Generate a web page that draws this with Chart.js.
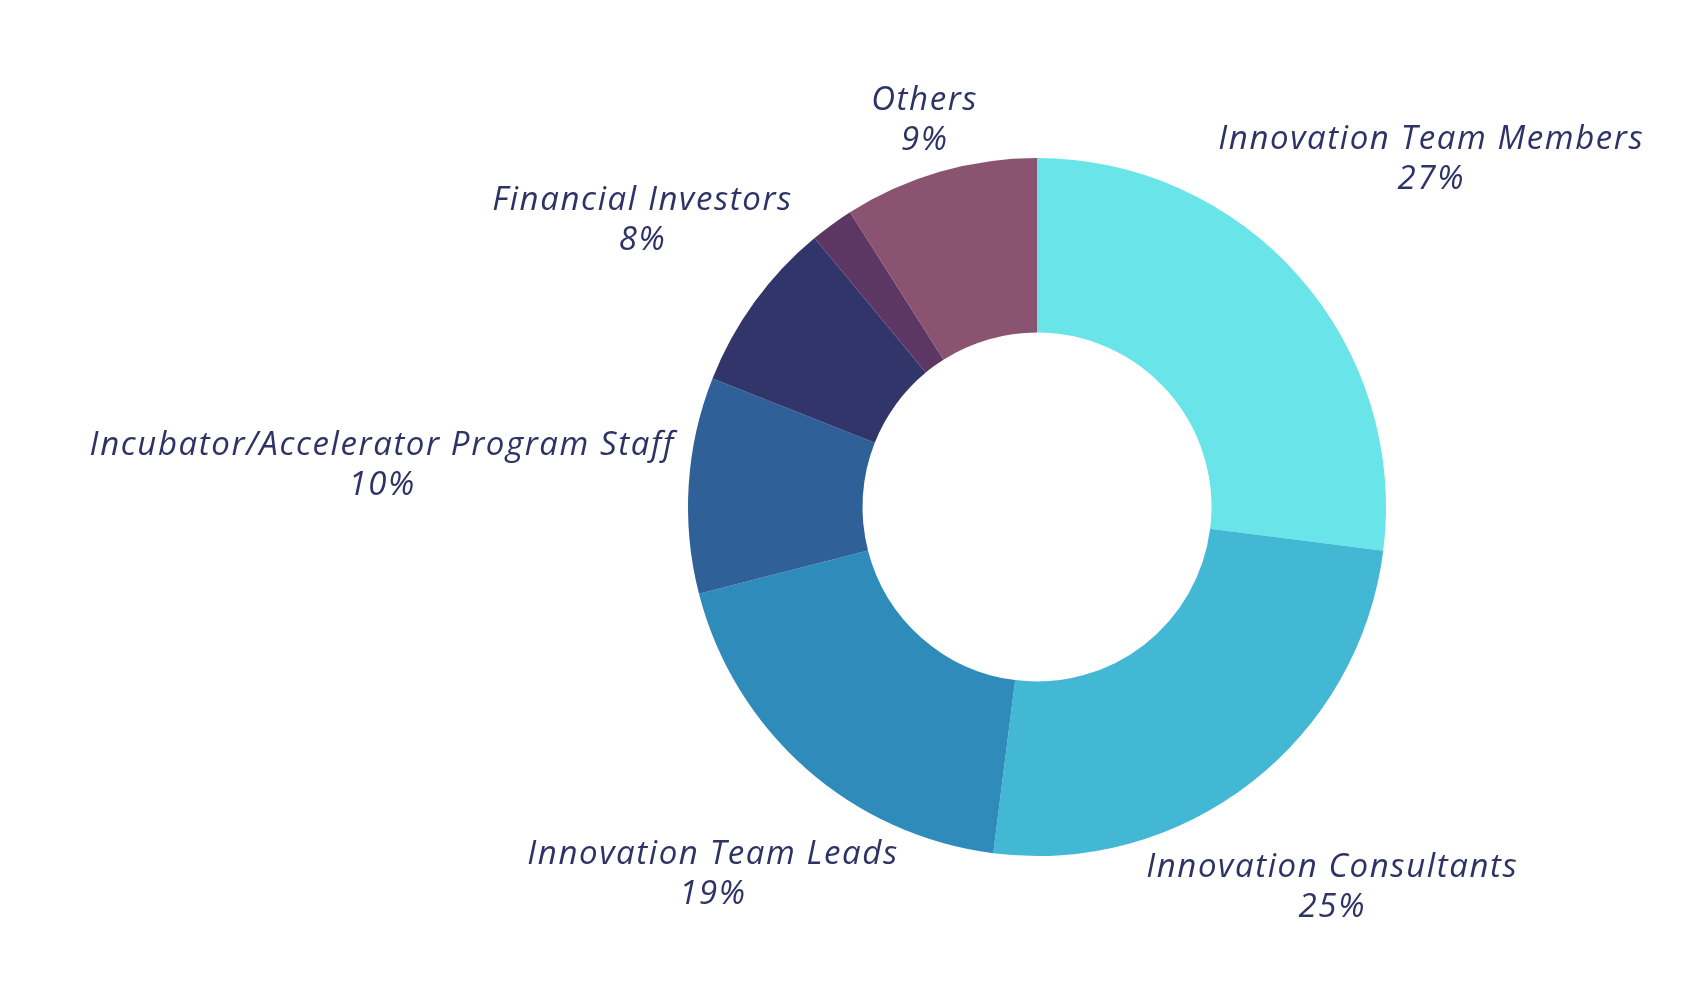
<!DOCTYPE html>
<html>
<head>
<meta charset="utf-8">
<script src="https://cdn.jsdelivr.net/npm/chart.js@4.4.1/dist/chart.umd.min.js"></script>
<style>
  html, body { margin: 0; padding: 0; background: #ffffff; }
  #wrap { width: 1698px; height: 992px; }
</style>
</head>
<body>
<div id="wrap"><canvas id="c" width="1698" height="992"></canvas></div>
<script>
const categories = [
  "Innovation Team Members",
  "Innovation Consultants",
  "Innovation Team Leads",
  "Incubator/Accelerator Program Staff",
  "Financial Investors",
  "",
  "Others"
];
const shares = [27, 25, 19, 10, 8, 2, 9];
const percentLabels = ["27%", "25%", "19%", "10%", "8%", "", "9%"];
const sliceColors = ["#69E4E8", "#43B8D5", "#2E8BBA", "#2F6098", "#31356A", "#5C3764", "#8A536F"];

const LABEL_FONT = 'italic 33px "Open Sans", "DejaVu Sans", sans-serif';
const LABEL_COLOR = "#2E3366";
const LINE_GAP = 40;
const LABEL_PAD = 15;

const outsideLabels = {
  id: "outsideLabels",
  afterDatasetsDraw(chart) {
    const ctx = chart.ctx;
    const meta = chart.getDatasetMeta(0);
    ctx.save();
    ctx.font = LABEL_FONT;
    ctx.letterSpacing = "1.6px";
    ctx.fillStyle = LABEL_COLOR;
    ctx.textAlign = "center";
    ctx.textBaseline = "middle";
    meta.data.forEach((arc, i) => {
      const name = chart.data.labels[i];
      if (!name) return;
      const lines = [name, percentLabels[i]];
      const p = arc.getProps(["x", "y", "startAngle", "endAngle", "outerRadius"], true);
      const mid = (p.startAngle + p.endAngle) / 2;
      const ux = Math.cos(mid), uy = Math.sin(mid);
      const w = Math.max(...lines.map(l => ctx.measureText(l).width)) / 2;
      const h = (LINE_GAP + 34) / 2;
      const d = p.outerRadius + LABEL_PAD + Math.sqrt((ux * w) ** 2 + (uy * h) ** 2);
      const cx = p.x + ux * d, cy = p.y + uy * d;
      ctx.fillText(lines[0], cx, cy - LINE_GAP / 2);
      ctx.fillText(lines[1], cx, cy + LINE_GAP / 2);
    });
    ctx.restore();
  }
};

new Chart(document.getElementById("c"), {
  type: "doughnut",
  data: {
    labels: categories,
    datasets: [{
      data: shares,
      backgroundColor: sliceColors,
      borderWidth: 0,
      hoverOffset: 0
    }]
  },
  options: {
    responsive: false,
    animation: false,
    cutout: "50%",
    layout: { padding: { left: 688, right: 312, top: 158, bottom: 136 } },
    plugins: {
      legend: { display: false },
      tooltip: { enabled: false }
    }
  },
  plugins: [outsideLabels]
});
</script>
</body>
</html>
